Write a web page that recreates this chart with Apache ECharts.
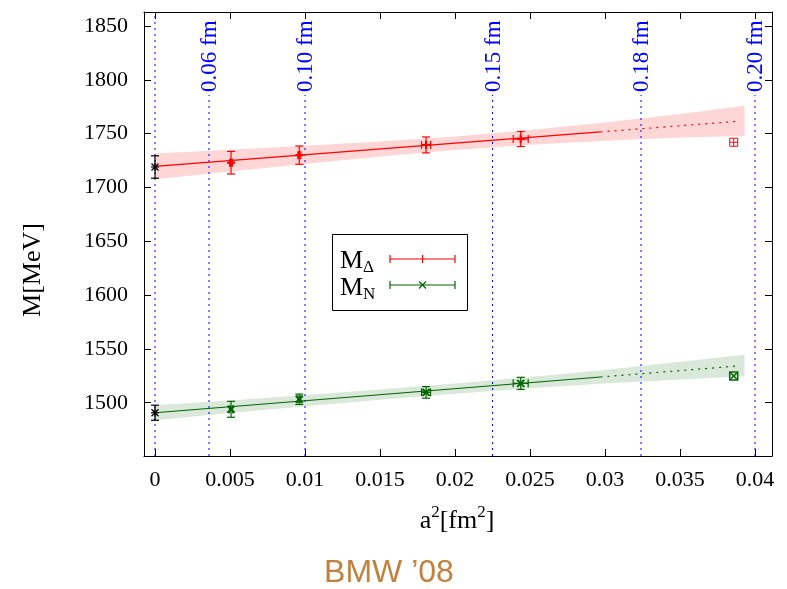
<!DOCTYPE html>
<html><head><meta charset="utf-8">
<script src="https://cdn.jsdelivr.net/npm/echarts@6/dist/echarts.min.js"></script>
<style>html,body{margin:0;padding:0;background:#fff}#c{width:787px;height:589px}</style>
</head><body><div id="c"></div>
<script>
// ---- data ----
const xTicks = [0, 0.005, 0.01, 0.015, 0.02, 0.025, 0.03, 0.035, 0.04];
const yTicks = [1500, 1550, 1600, 1650, 1700, 1750, 1800, 1850];
const aLineX = [0, 0.0036, 0.01, 0.0225, 0.0324, 0.04];
const aLineLabels = ['', '0.06 fm', '0.10 fm', '0.15 fm', '0.18 fm', '0.20 fm'];

const deltaX = [0.00507, 0.00962, 0.01807, 0.02438];
const deltaY = [1723, 1730, 1739.5, 1745];
const deltaYErr = [10.5, 8.5, 7.4, 7];
const deltaXErr = [0.0001, 0.0001, 0.0003, 0.0005];

const nucX = [0.00507, 0.00962, 0.01807, 0.02438];
const nucY = [1493.9, 1503.2, 1509.6, 1518];
const nucYErr = [7.4, 4.8, 5.4, 5.6];
const nucXErr = [0.0001, 0.0001, 0.0003, 0.0005];

const coarseX = [0.03858];
const coarseDelta = [1742];
const coarseNuc = [1524.8];

const contX = [0];
const contDelta = [1719];
const contDeltaErr = [10.4];
const contNuc = [1490.7];
const contNucErr = [7];

const fitX = [0, 0.0297, 0.039];
const fitDelta = [1719.5, 1751.6, 1761.6];
const fitNuc = [1490.7, 1523.9, 1534.3];

const bandX = [0, 0.005, 0.01, 0.015, 0.02, 0.025, 0.03, 0.035, 0.0393];
const redLo = [1707.5, 1714.7, 1721.8, 1728.7, 1734.9, 1739.7, 1743.4, 1746.3, 1747.9];
const redHi = [1731.5, 1735.1, 1738.8, 1742.7, 1747.3, 1753.3, 1760.4, 1768.3, 1775.9];
const greenLo = [1483.7, 1490.5, 1496.7, 1502.8, 1508.3, 1513.4, 1517.9, 1521.6, 1524.6];
const greenHi = [1497.7, 1502.1, 1507.1, 1512.2, 1517.9, 1524.0, 1530.5, 1538.0, 1544.6];

// ---- layout ----
const X_MIN = -0.000733, X_MAX = 0.041133;
const Y_MIN = 1450.5, Y_MAX = 1863;
const SERIF = '"Liberation Serif", "DejaVu Serif", serif';
const RED = '#ff0000', GREEN = '#006400', BLUE = '#0000ff';

const chart = echarts.init(document.getElementById('c'), null, {renderer: 'canvas'});

function zip(...arrs) { return arrs[0].map((_, i) => arrs.map(a => a[i])); }

function bandRender(lo, hi, color) {
  return function (params, api) {
    const pts = [];
    for (let i = 0; i < bandX.length; i++) pts.push(api.coord([bandX[i], hi[i]]));
    for (let i = bandX.length - 1; i >= 0; i--) pts.push(api.coord([bandX[i], lo[i]]));
    return {type: 'polygon', shape: {points: pts}, style: {fill: color}};
  };
}

function errRender(color, mk, lw) {
  return function (params, api) {
    const x = api.value(0), y = api.value(1), ey = api.value(2), ex = api.value(3);
    const c = api.coord([x, y]);
    const ch = [];
    const st = {stroke: color, lineWidth: 1.2, fill: 'none'};
    const mst = {stroke: color, lineWidth: lw, fill: 'none'};
    const seg = (x1, y1, x2, y2, s) => ch.push({type: 'line', shape: {x1, y1, x2, y2}, style: s || st});
    const cap = 4;
    if (ey > 0) {
      const t = api.coord([x, y + ey]), b = api.coord([x, y - ey]);
      seg(c[0], t[1], c[0], b[1]);
      seg(c[0] - cap, t[1], c[0] + cap, t[1]);
      seg(c[0] - cap, b[1], c[0] + cap, b[1]);
    }
    if (ex > 0) {
      const l = api.coord([x - ex, y]), r = api.coord([x + ex, y]);
      seg(l[0], c[1], r[0], c[1]);
      seg(l[0], c[1] - cap, l[0], c[1] + cap);
      seg(r[0], c[1] - cap, r[0], c[1] + cap);
    }
    const m = 4;
    if (mk === 'plus' || mk === 'star' || mk === 'boxplus') {
      seg(c[0] - m, c[1], c[0] + m, c[1], mst);
      seg(c[0], c[1] - m, c[0], c[1] + m, mst);
    }
    if (mk === 'cross' || mk === 'star') {
      seg(c[0] - 3.5, c[1] - 3.5, c[0] + 3.5, c[1] + 3.5, mst);
      seg(c[0] - 3.5, c[1] + 3.5, c[0] + 3.5, c[1] - 3.5, mst);
    }
    if (mk === 'boxplus' || mk === 'boxcross') {
      ch.push({type: 'rect', shape: {x: c[0] - m, y: c[1] - m, width: 2 * m, height: 2 * m}, style: mst});
    }
    if (mk === 'boxcross') {
      seg(c[0] - 3, c[1] - 3, c[0] + 3, c[1] + 3, mst);
      seg(c[0] - 3, c[1] + 3, c[0] + 3, c[1] - 3, mst);
    }
    return {type: 'group', children: ch};
  };
}

function aLineRender(params, api) {
  const x = api.value(0);
  const label = aLineLabels[params.dataIndex];
  const bot = api.coord([x, Y_MIN]);
  const top = api.coord([x, Y_MAX]);
  const textBottom = 92;
  const ch = [{
    type: 'line',
    shape: {x1: bot[0], y1: bot[1], x2: bot[0], y2: label ? textBottom + 3 : top[1]},
    style: {stroke: BLUE, lineWidth: 1, lineDash: [2, 4]}
  }];
  if (label) {
    ch.push({
      type: 'text', x: bot[0] + 1, y: textBottom, rotation: Math.PI / 2,
      style: {text: label, fill: BLUE, font: '23px ' + SERIF, textAlign: 'left', textVerticalAlign: 'middle'}
    });
  }
  return {type: 'group', children: ch};
}

const fmtX = v => String(parseFloat(v.toFixed(4)));
const fmtY = v => String(Math.round(v));

const baseAxisX = {
  type: 'value', min: X_MIN, max: X_MAX,
  axisLine: {onZero: false, lineStyle: {color: '#000', width: 1}},
  axisTick: {inside: true, length: 7, customValues: xTicks, lineStyle: {color: '#000'}},
  splitLine: {show: false}
};
const baseAxisY = {
  type: 'value', min: Y_MIN, max: Y_MAX,
  axisLine: {onZero: false, lineStyle: {color: '#000', width: 1}},
  axisTick: {inside: true, length: 7, customValues: yTicks, lineStyle: {color: '#000'}},
  splitLine: {show: false}
};

const legendG = [];
legendG.push({type: 'rect', shape: {x: 332.5, y: 234.5, width: 135, height: 76}, style: {fill: '#fff', stroke: '#000', lineWidth: 1}, z: 100});
function legendRow(y, color, sub, mk, ty) {
  legendG.push({type: 'text', x: 340, y: ty, z: 101,
    style: {text: '{b|M}{s|' + sub + '}', textVerticalAlign: 'middle',
      rich: {b: {fontSize: 26, fontFamily: SERIF, lineHeight: 28, verticalAlign: 'top', fill: '#000'},
             s: {fontSize: 17, fontFamily: SERIF, lineHeight: 14, verticalAlign: 'bottom', fill: '#000'}}}});
  const st = {stroke: color, lineWidth: 1.2};
  legendG.push({type: 'line', z: 101, shape: {x1: 390, y1: y, x2: 455, y2: y}, style: st});
  legendG.push({type: 'line', z: 101, shape: {x1: 390, y1: y - 4, x2: 390, y2: y + 4}, style: st});
  legendG.push({type: 'line', z: 101, shape: {x1: 455, y1: y - 4, x2: 455, y2: y + 4}, style: st});
  if (mk === 'plus') {
    legendG.push({type: 'line', z: 101, shape: {x1: 422.5, y1: y - 4, x2: 422.5, y2: y + 4}, style: st});
  } else {
    legendG.push({type: 'line', z: 101, shape: {x1: 419, y1: y - 3.5, x2: 426, y2: y + 3.5}, style: st});
    legendG.push({type: 'line', z: 101, shape: {x1: 419, y1: y + 3.5, x2: 426, y2: y - 3.5}, style: st});
  }
}
legendRow(259, RED, 'Δ', 'plus', 262);
legendRow(285, GREEN, 'N', 'cross', 289);

const option = {
  backgroundColor: '#fff',
  animation: false,
  grid: {left: 144, top: 12, right: 15, bottom: 133, containLabel: false},
  xAxis: [
    Object.assign({}, baseAxisX, {position: 'bottom',
      axisLabel: {customValues: xTicks, formatter: fmtX, color: '#000', fontSize: 22, fontFamily: SERIF, margin: 13}}),
    Object.assign({}, baseAxisX, {position: 'top', axisLabel: {show: false}})
  ],
  yAxis: [
    Object.assign({}, baseAxisY, {position: 'left',
      axisLabel: {customValues: yTicks, formatter: fmtY, color: '#000', fontSize: 22, fontFamily: SERIF, margin: 16}}),
    Object.assign({}, baseAxisY, {position: 'right', axisLabel: {show: false}})
  ],
  graphic: [
    {type: 'text', x: 33, y: 270, rotation: Math.PI / 2,
      style: {text: 'M[MeV]', font: '26px ' + SERIF, fill: '#000', textAlign: 'center', textVerticalAlign: 'middle'}},
    {type: 'text', x: 457, y: 519,
      style: {text: '{b|a}{p|2}{b|[fm}{p|2}{b|]}', textAlign: 'center', textVerticalAlign: 'middle',
        rich: {b: {fontSize: 26, fontFamily: SERIF, lineHeight: 30, verticalAlign: 'bottom', fill: '#000'},
               p: {fontSize: 17, fontFamily: SERIF, lineHeight: 14, verticalAlign: 'top', fill: '#000'}}}},
    {type: 'text', x: 389, y: 573,
      style: {text: 'BMW \u201908', font: '32px "Liberation Sans", Arial, sans-serif', fill: '#c0823f', textAlign: 'center', textVerticalAlign: 'middle'}},
    {type: 'group', children: legendG}
  ],
  series: [
    {type: 'custom', name: 'bandR', data: [[0, 1700]], renderItem: bandRender(redLo, redHi, '#ffd6d6'), z: 1, silent: true},
    {type: 'custom', name: 'bandG', data: [[0, 1500]], renderItem: bandRender(greenLo, greenHi, '#d9e8d9'), z: 1, silent: true},
    {type: 'custom', name: 'alines', data: aLineX.map(x => [x, Y_MIN]), renderItem: aLineRender, z: 2, clip: false},
    {type: 'line', data: [[fitX[0], fitDelta[0]], [fitX[1], fitDelta[1]]], showSymbol: false, symbol: 'none',
      lineStyle: {color: RED, width: 1.2}, z: 3},
    {type: 'line', data: [[fitX[1], fitDelta[1]], [fitX[2], fitDelta[2]]], showSymbol: false, symbol: 'none',
      lineStyle: {color: RED, width: 1.2, type: [2, 5]}, z: 3},
    {type: 'line', data: [[fitX[0], fitNuc[0]], [fitX[1], fitNuc[1]]], showSymbol: false, symbol: 'none',
      lineStyle: {color: GREEN, width: 1.2}, z: 3},
    {type: 'line', data: [[fitX[1], fitNuc[1]], [fitX[2], fitNuc[2]]], showSymbol: false, symbol: 'none',
      lineStyle: {color: GREEN, width: 1.2, type: [2, 5]}, z: 3},
    {type: 'custom', data: zip(deltaX, deltaY, deltaYErr, deltaXErr), renderItem: errRender(RED, 'plus', 2.2), z: 4, clip: false},
    {type: 'custom', data: zip(nucX, nucY, nucYErr, nucXErr), renderItem: errRender(GREEN, 'cross', 2), z: 4, clip: false},
    {type: 'custom', data: coarseX.map((x, i) => [x, coarseDelta[i], 0, 0]), renderItem: errRender(RED, 'boxplus', 1), z: 4, clip: false},
    {type: 'custom', data: coarseX.map((x, i) => [x, coarseNuc[i], 0, 0]), renderItem: errRender(GREEN, 'boxcross', 1.5), z: 4, clip: false},
    {type: 'custom', data: contX.map((x, i) => [x, contDelta[i], contDeltaErr[i], 0]), renderItem: errRender('#000', 'star', 1.2), z: 5, clip: false},
    {type: 'custom', data: contX.map((x, i) => [x, contNuc[i], contNucErr[i], 0]), renderItem: errRender('#000', 'star', 1.2), z: 5, clip: false}
  ]
};
chart.setOption(option);
</script>
</body></html>
